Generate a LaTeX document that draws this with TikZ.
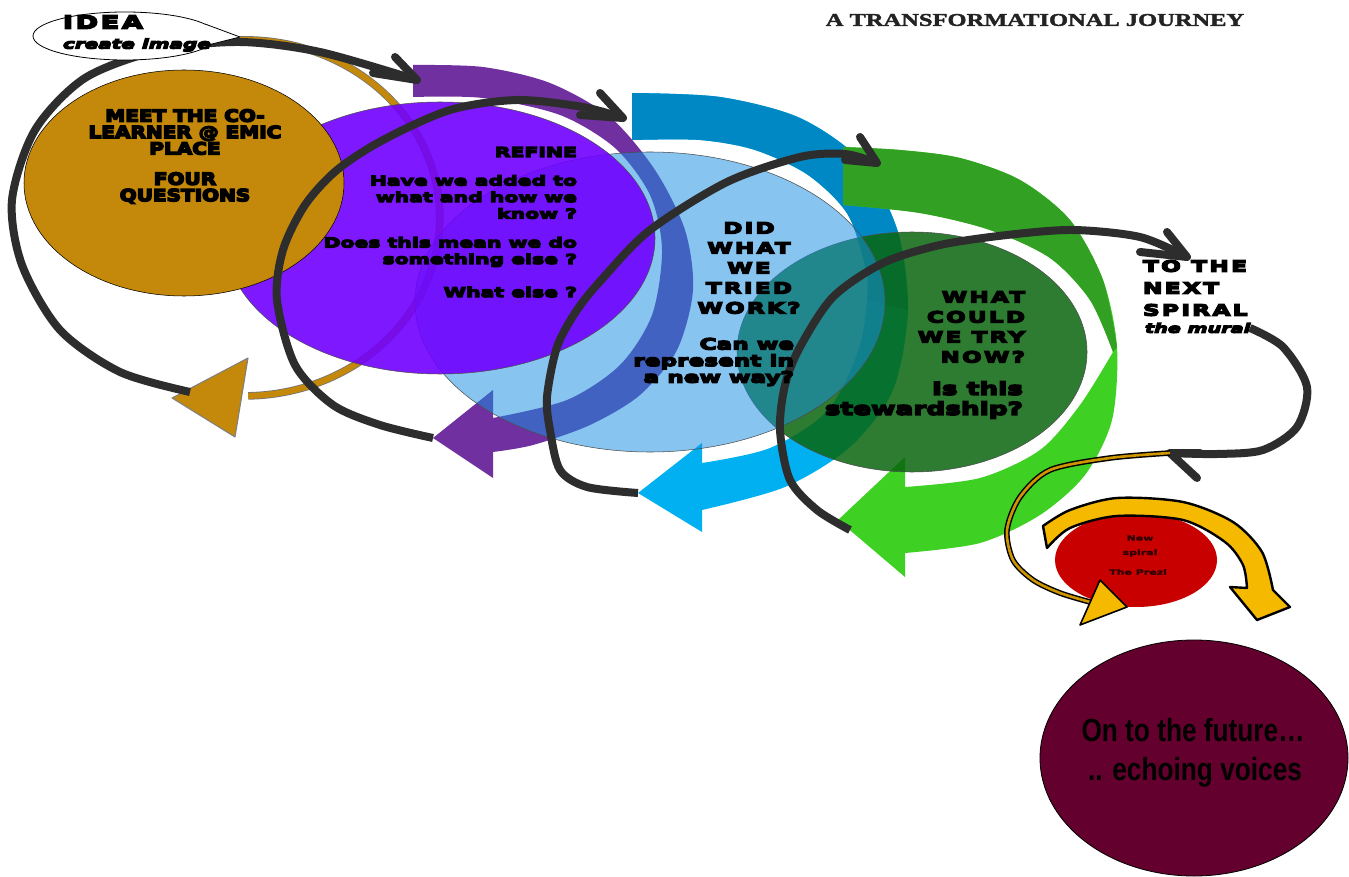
\documentclass[tikz,border=0pt]{standalone}
\usepackage{fontspec}
\usetikzlibrary{shapes.geometric}
\newfontfamily\hvA{DejaVu Sans}[FakeStretch=1.2,FakeBold=9]
\newfontfamily\hvB{DejaVu Sans}[FakeStretch=1.5,FakeBold=9]
\newfontfamily\hvC{DejaVu Sans}[FakeStretch=1.5,FakeBold=9,LetterSpace=15]
\newfontfamily\hvS{DejaVu Sans}[FakeStretch=1.5,FakeBold=3]
\newfontfamily\ttlfont{Liberation Serif}[FakeStretch=1.36,FakeBold=2]
\newfontfamily\narfont{Liberation Sans}[FakeStretch=0.82]
\definecolor{goldc}{RGB}{196,136,10}
\definecolor{purpband}{RGB}{112,48,160}
\definecolor{bluedark}{RGB}{0,136,196}
\definecolor{bluebright}{RGB}{0,176,240}
\definecolor{greendark}{RGB}{50,160,34}
\definecolor{greenlight}{RGB}{62,208,34}
\definecolor{purpcirc}{RGB}{112,0,255}
\definecolor{bluecirc}{RGB}{25,144,227}
\definecolor{greencirc}{RGB}{9,102,14}
\definecolor{redc}{RGB}{200,0,0}
\definecolor{maroonc}{RGB}{100,0,45}
\definecolor{yel}{RGB}{245,185,0}
\definecolor{thingoldc}{RGB}{205,150,0}
\definecolor{loopc}{RGB}{45,45,45}
\definecolor{titlec}{RGB}{35,35,35}
\definecolor{prezic}{RGB}{50,0,0}
\tikzset{
 circ/.style={ellipse, inner sep=0pt, outer sep=0pt, draw=black!70, line width=0.4pt},
 txt/.style={inner sep=0pt, outer sep=0pt, text=black},
 loopline/.style={draw=loopc, line width=6pt, line cap=butt},
 chev/.style={draw=loopc, line width=6pt, line cap=round, line join=round},
 goldarc/.style={draw=black!55, double=goldc, double distance=4.5pt, line width=0.6pt},
 thingold/.style={draw=black, double=thingoldc, double distance=2pt, line width=1.1pt},
 headfill/.style={line join=round},
}
\begin{document}
\begin{tikzpicture}[x=0.75pt,y=-0.75pt]
\useasboundingbox (0,0) rectangle (1349,877);
\fill[white] (0,0) rectangle (1349,877);

% ---------- wide band arrows ----------
% purple
\fill[purpband] plot[smooth] coordinates {(413,65) (483,67) (550,83) (610,117) (655,170) (685,230) (693,290) (677,350) (640,395) (590,425) (533,445) (493,452)}
 -- (493,478) -- (433,438) -- (493,390)
 -- plot[smooth] coordinates {(493,418) (567,400) (620,365) (652,315) (662,250) (650,195) (615,148) (560,115) (483,98) (413,97)} -- cycle;
% blue
\fill[bluebright] plot[smooth] coordinates {(632,93) (720,97) (800,118) (862,162) (898,232) (908,310) (893,390) (850,447) (785,487) (702,510)}
 -- (702,532) -- (638,493) -- (702,443)
 -- plot[smooth] coordinates {(702,463) (770,448) (828,410) (860,345) (867,275) (848,215) (808,175) (755,150) (700,140) (632,140)} -- cycle;
\fill[bluedark] plot[smooth] coordinates {(632,93) (720,97) (800,118) (862,162) (898,232) (908,310)}
 -- plot[smooth] coordinates {(867,300) (867,275) (848,215) (808,175) (755,150) (700,140) (632,140)} -- cycle;
% green
\fill[greenlight] plot[smooth] coordinates {(843,147) (900,150) (960,158) (1020,180) (1070,220) (1103,280) (1117,347) (1112,420) (1085,475) (1040,515) (980,543) (905,553)}
 -- (905,577) -- (838,520) -- (905,457)
 -- plot[smooth] coordinates {(905,487) (980,478) (1040,450) (1080,405) (1113,352)}
 -- plot[smooth] coordinates {(1113,352) (1090,300) (1050,258) (990,230) (920,213) (843,205)} -- cycle;
\fill[greendark] plot[smooth] coordinates {(843,147) (900,150) (960,158) (1020,180) (1070,220) (1103,280) (1117,347)}
 -- plot[smooth] coordinates {(1113,352) (1090,300) (1050,258) (990,230) (920,213) (843,205)} -- cycle;

% ---------- gold arc arrow ----------
\coordinate (goldstart) at (238,40);
\draw[goldarc] (goldstart) arc[start angle=-92, end angle=89, x radius=195, y radius=178] coordinate (goldend);
\filldraw[fill=goldc, draw=black!50, line width=0.8pt, headfill] (172,398) -- (248,358) -- (235,437) -- cycle;

% ---------- circles ----------
\node[circ, fill=greencirc, fill opacity=0.85, minimum width=262.5pt, minimum height=180pt] (greenc) at (912,352) {};
\node[circ, fill=bluecirc, fill opacity=0.52, minimum width=352.5pt, minimum height=225pt] (bluec) at (650,302) {};
\node[circ, fill=purpcirc, fill opacity=0.9, minimum width=322.5pt, minimum height=204pt] (purplec) at (440,238) {};
\node[circ, fill=goldc, draw=black, minimum width=240pt, minimum height=169.5pt] (goldcirc) at (184,183) {};

% ---------- black loop arrows ----------
\coordinate (l1s) at (190,392); \coordinate (l1e) at (417,80);
\draw[loopline] plot[smooth] coordinates {(190,392) (120,372) (60,330) (22,265) (12,200) (35,130) (85,78) (160,50) (240,42) (320,52) (417,80)};
\draw[chev] (395,57) -- (l1e) -- (373,73);
\coordinate (l2e) at (623,118);
\draw[loopline] plot[smooth] coordinates {(433,438) (380,425) (333,405) (295,365) (277,300) (283,250) (305,205) (337,170) (383,140) (450,110) (517,100) (583,107) (623,118)};
\draw[chev] (600,93) -- (l2e) -- (580,115);
\coordinate (l3e) at (877,163);
\draw[loopline] plot[smooth] coordinates {(638,493) (587,487) (560,470) (550,430) (547,397) (557,347) (577,310) (603,278) (650,230) (727,182) (800,157) (845,154) (877,163)};
\draw[chev] (860,137) -- (l3e) -- (845,160);
\coordinate (l4e) at (1187,257);
\draw[loopline] plot[smooth] coordinates {(850,530) (817,510) (790,480) (780,430) (785,385) (800,347) (833,297) (883,263) (940,245) (1007,235) (1073,230) (1140,237) (1187,257)};
\draw[chev] (1167,232) -- (l4e) -- (1140,252);
\coordinate (l5e) at (1170,453);
\draw[loopline] plot[smooth] coordinates {(1250,328) (1283,347) (1307,387) (1297,427) (1263,450) (1217,454) (1170,453)};
\draw[chev] (1197,478) -- (l5e) -- (1200,453);

% ---------- idea bubble ----------
\node[ellipse, inner sep=0pt, fill=white, draw=black, line width=0.6pt, minimum width=138pt, minimum height=36pt] (ideab) at (125,36) {};
\fill[white] (205,24) -- (240,37) -- (212,44) -- cycle;
\draw[black, line width=0.6pt, line join=round] (205,24) -- (240,37) -- (212,44);

% ---------- bottom right: new spiral ----------
\node[ellipse, inner sep=0pt, fill=redc, minimum width=121.5pt, minimum height=70.5pt] (redcirc) at (1136,560) {};
\draw[thingold] plot[smooth] coordinates {(1170,453) (1110,458) (1050,470) (1020,497) (1007,530) (1013,560) (1033,580) (1060,593) (1090,602)};
\filldraw[fill=yel, draw=black, line width=1.2pt, headfill] (1080,625) -- (1100,580) -- (1127,607) -- cycle;
\filldraw[fill=yel, draw=black, line width=1.8pt, headfill]
 plot[smooth] coordinates {(1043,526) (1070,510) (1117,498) (1183,502) (1233,522) (1262,552) (1273,590)}
 -- (1290,607) -- (1257,620) -- (1230,587)
 -- plot[smooth] coordinates {(1247,588) (1243,565) (1225,542) (1183,520) (1117,516) (1070,528) (1047,548)} -- cycle;

\node[ellipse, inner sep=0pt, fill=maroonc, draw=black, line width=0.6pt, minimum width=231pt, minimum height=177pt] (future) at (1194,758) {};

% ---------- texts ----------
\node[txt, text=titlec, font={\ttlfont\bfseries\fontsize{13.5}{14}\selectfont}] (title) at (1035,20) {A TRANSFORMATIONAL JOURNEY};
\node[txt, anchor=west, font={\hvC\bfseries\fontsize{13.5}{14}\selectfont}] (idea) at (63,22) {IDEA};
\node[txt, anchor=west, font={\hvB\bfseries\itshape\fontsize{10}{12}\selectfont}] (create) at (63,45) {create image};

\node[txt, align=center, font={\hvA\bfseries\fontsize{12.5}{12.3}\selectfont}] (gold1) at (185,132) {MEET THE CO-\\LEARNER @ EMIC\\PLACE};
\node[txt, align=center, font={\hvA\bfseries\fontsize{12.5}{12.3}\selectfont}] (gold2) at (185,188) {FOUR\\QUESTIONS};

\node[txt, anchor=east, align=right, font={\hvB\bfseries\fontsize{10.2}{12.4}\selectfont}] (ref1) at (577,152) {REFINE};
\node[txt, anchor=east, align=right, font={\hvB\bfseries\fontsize{10.2}{12.4}\selectfont}] (ref2) at (577,197) {Have we added to\\what and how we\\know ?};
\node[txt, anchor=east, align=right, font={\hvB\bfseries\fontsize{10.2}{12.4}\selectfont}] (ref3) at (577,252) {Does this mean we do\\something else ?};
\node[txt, anchor=east, align=right, font={\hvB\bfseries\fontsize{10.2}{12.4}\selectfont}] (ref4) at (577,292) {What else ?};

\node[txt, align=center, font={\hvC\bfseries\fontsize{11.5}{15}\selectfont}] (did) at (749,268) {DID\\WHAT\\WE\\TRIED\\WORK?};
\node[txt, anchor=east, align=right, font={\hvB\bfseries\fontsize{11.6}{12.4}\selectfont}] (can) at (794,362) {Can we\\represent in\\a new way?};

\node[txt, anchor=east, align=right, font={\hvC\bfseries\fontsize{11.5}{15}\selectfont}] (whatc) at (1025,327) {WHAT\\COULD\\WE TRY\\NOW?};
\node[txt, anchor=east, align=right, font={\hvB\bfseries\fontsize{13.2}{15}\selectfont}] (steward) at (1023,400) {Is this\\stewardship?};

\node[txt, anchor=west, align=left, font={\hvC\bfseries\fontsize{11.6}{16.5}\selectfont}] (nextsp) at (1143,288) {TO THE\\NEXT\\SPIRAL};
\node[txt, anchor=west, font={\hvB\bfseries\itshape\fontsize{9.6}{11}\selectfont}] (mural) at (1145,328) {the mural};

\node[txt, text=prezic, font={\hvS\bfseries\fontsize{5.5}{6}\selectfont}] (newt) at (1140,538) {New};
\node[txt, text=prezic, font={\hvS\bfseries\fontsize{5.5}{6}\selectfont}] (spiralt) at (1140,553) {spiral};
\node[txt, text=prezic, font={\hvS\bfseries\fontsize{5.5}{6}\selectfont}] (prezi) at (1138,572) {The Prezi};

\node[txt, font={\narfont\bfseries\fontsize{24}{26}\selectfont}] (fut1) at (1193,730) {On to the future…};
\node[txt, font={\narfont\bfseries\fontsize{24}{26}\selectfont}] (fut2) at (1195,772) {.. echoing voices};
\end{tikzpicture}
\end{document}
